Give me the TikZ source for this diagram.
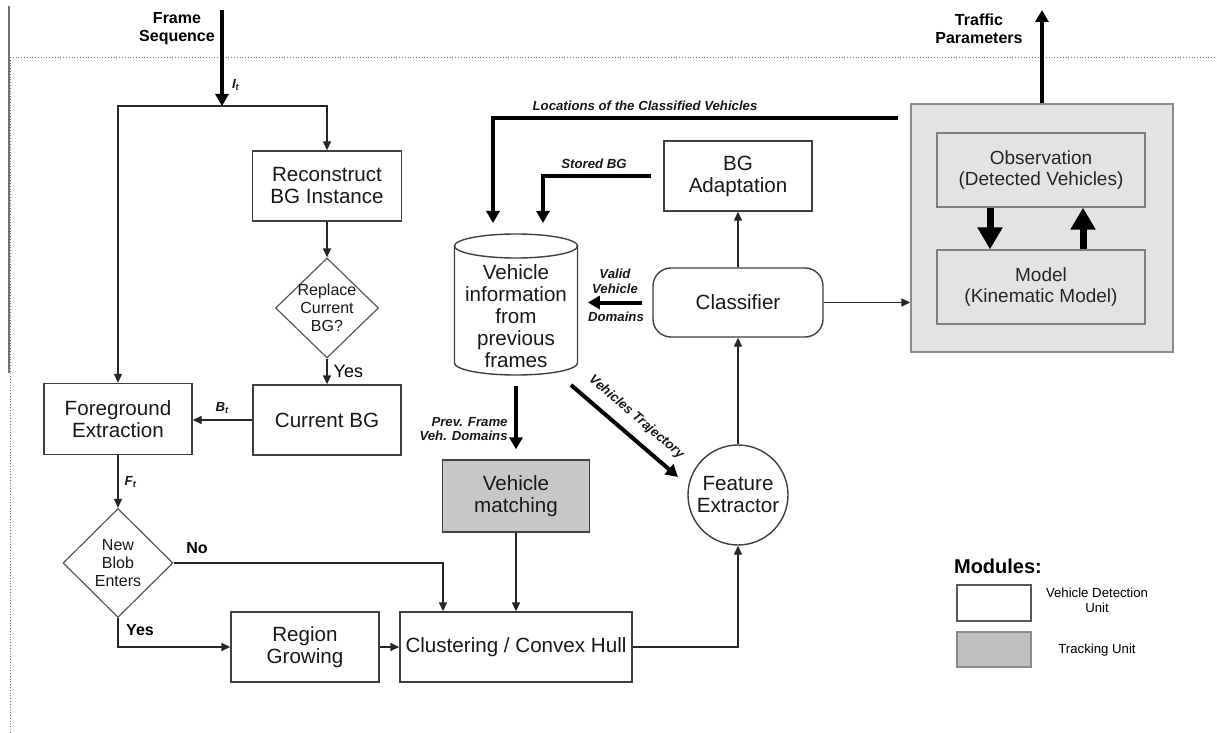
\documentclass[tikz,border=0pt]{standalone}
\usepackage{fontspec}
\setmainfont{Liberation Sans}
\usetikzlibrary{arrows.meta,shapes.geometric}

\tikzset{
  blk/.style={draw=black!75, line width=0.7pt, fill=white, align=center, text=black!90,
    inner sep=1pt, font=\fontsize{10.3}{11}\selectfont},
  trk/.style={blk, fill=black!22},
  inbox/.style={blk, draw=black!50, fill=black!11, text=black!85, font=\fontsize{9.5}{10.5}\selectfont},
  decision/.style={diamond, draw=black!65, line width=0.6pt, fill=white, align=center,
    inner sep=-2pt, text=black!90, font=\fontsize{8}{9}\selectfont},
  flow/.style={draw=black!85, line width=0.7pt, -{Triangle[length=4.5pt,width=4pt]}},
  bigflow/.style={draw=black, line width=2pt, -{Triangle[length=6pt,width=6.5pt]}},
  blockflow/.style={draw=black, line width=3.5pt, -{Triangle[length=11pt,width=12pt]}},
  lbl/.style={font=\fontsize{6.6}{7.4}\selectfont\bfseries\itshape, align=center, text=black!90, inner sep=0pt},
  tag/.style={font=\fontsize{8}{9}\selectfont\bfseries, align=center, inner sep=0pt},
}

\begin{document}
\begin{tikzpicture}[x=0.5pt, y=-0.5pt]
\useasboundingbox (0,0) rectangle (1217,733);
% page frame
\draw[line width=0.8pt, black!55] (9,6) -- (9,373);
\draw[densely dotted, black!55] (10,57) -- (10,733);
\draw[densely dotted, black!55] (10,57) -- (1217,57);

% detection
\node[tag] (fseq) at (177,29) {Frame\\Sequence};
\coordinate (fsin) at (222,10);
\coordinate (split) at (222,106);
\node[blk, minimum width=74.5pt, minimum height=35pt] (recon) at (327,186) {Reconstruct\\BG Instance};
\node[decision, minimum width=51.5pt, minimum height=50pt] (replace) at (327,308) {Replace\\Current\\BG?};
\node[blk, minimum width=74pt, minimum height=35pt] (curbg) at (327,420) {Current BG};
\node[blk, minimum width=74pt, minimum height=35.5pt] (fg) at (118,419) {Foreground\\Extraction};
\node[decision, minimum width=55pt, minimum height=54.5pt] (newblob) at (118,563) {New\\Blob\\Enters};
\node[blk, minimum width=74pt, minimum height=35pt] (region) at (305,647) {Region\\Growing};
\node[blk, minimum width=116pt, minimum height=35pt] (cluster) at (516,647) {Clustering / Convex Hull};

% tracking
\node[trk, minimum width=73.5pt, minimum height=36pt] (match) at (516,496) {Vehicle\\matching};
\draw[black!75, line width=0.7pt] (454.5,246) -- (454.5,363)
  arc[start angle=180, end angle=360, x radius=30.75pt, y radius=6pt] -- (577.5,246);
\draw[black!75, line width=0.7pt] (516,246) ellipse [x radius=30.75pt, y radius=6pt];
\node[align=center, inner sep=0pt, minimum width=61.5pt, minimum height=70pt, text=black!90,
  font=\fontsize{10.3}{11}\selectfont] (db) at (516,316) {Vehicle\\information\\from\\previous\\frames};
\node[blk, circle, minimum size=50pt, inner sep=0pt] (feat) at (738,495) {Feature\\Extractor};
\node[blk, rounded corners=9pt, minimum width=85pt, minimum height=34.5pt] (classif) at (738,302.5) {Classifier};
\node[blk, minimum width=74pt, minimum height=35pt] (bgadapt) at (738,176) {BG\\Adaptation};

% kinematic tracker
\node[draw=black!45, line width=0.7pt, fill=black!11, minimum width=131pt, minimum height=124pt] (tracker) at (1042,228) {};
\node[inbox, minimum width=104pt, minimum height=37pt] (obs) at (1041,170) {Observation\\(Detected Vehicles)};
\node[inbox, minimum width=104pt, minimum height=37pt] (model) at (1041,287) {Model\\(Kinematic Model)};
\node[tag] (tpar) at (979,29) {Traffic\\Parameters};
\coordinate (tpout) at (1042,10);

% connectors
\draw[bigflow] (fsin) -- (split) node[lbl, pos=0.78, right=4pt] {I\textsubscript{t}};
\draw[flow] (split) -| (recon.north);
\draw[flow] (split) -| (fg.north);
\draw[flow] (recon) -- (replace);
\draw[flow] (replace) -- (curbg) node[midway, right=3pt, inner sep=0pt, font=\fontsize{9}{10}\selectfont] {Yes};
\draw[flow] (curbg.west) -- (curbg.west -| fg.east) node[lbl, midway, above=3pt] {B\textsubscript{t}};
\draw[flow] (fg) -- (newblob) node[lbl, midway, right=3pt] {F\textsubscript{t}};
\draw[flow] (newblob.east) -| ([xshift=-36.5pt]cluster.north);
\node[tag] (nolbl) at (197,548) {No};
\draw[flow] (newblob.south) |- (region.west);
\node[tag] (yeslbl) at (140,630) {Yes};
\draw[flow] (region) -- (cluster);
\draw[flow] (match) -- (cluster);
\draw[flow] (cluster.east) -| (feat.south);
\draw[flow] (feat) -- (classif);
\draw[flow] (classif) -- (bgadapt);
\draw[flow] (classif.east) -- (tracker.west |- classif.east);
\draw[bigflow] (tracker.north) -- (tpout);
\draw[blockflow] ([xshift=-25.5pt]obs.south) -- ([xshift=-25.5pt]model.north);
\draw[blockflow] ([xshift=21pt]model.north) -- ([xshift=21pt]obs.south);

\coordinate (locs) at (898,118);
\coordinate (loce) at (493,223);
\draw[bigflow] (locs) -| (loce);
\node[lbl] (loclbl) at (645,106) {Locations of the Classified Vehicles};
\coordinate (stoe) at (543,223);
\draw[bigflow, shorten <=6pt] (bgadapt.west) -| (stoe);
\node[lbl] (stolbl) at (594,164) {Stored BG};
\draw[bigflow, shorten <=5pt, shorten >=5pt] (classif.west) -- (db.east |- classif.west);
\node[lbl] (vallbl) at (615,281) {Valid\\Vehicle};
\node[lbl] (domlbl) at (616,317) {Domains};
\draw[bigflow, shorten >=5pt] (db.south) -- (match.north);
\node[lbl, anchor=east, align=right] (prevlbl) at (508,429) {Prev. Frame\\Veh. Domains};
\coordinate (trjs) at (571,385);
\coordinate (trje) at (678,477);
\draw[bigflow] (trjs) -- (trje) node[lbl, midway, sloped, above=5pt] {Vehicles Trajectory};

% legend
\node[font=\fontsize{10}{11}\selectfont\bfseries, inner sep=0pt] (modlbl) at (998,566) {Modules:};
\node[draw=black!65, line width=0.7pt, fill=white, minimum width=37pt, minimum height=18pt] (leg1) at (994,603) {};
\node[draw=black!45, line width=0.7pt, fill=black!25, minimum width=37pt, minimum height=17.5pt] (leg2) at (994,649.5) {};
\node[align=center, inner sep=0pt, font=\fontsize{6.6}{7.4}\selectfont] (leg1lbl) at (1097,600) {Vehicle Detection\\Unit};
\node[inner sep=0pt, font=\fontsize{6.6}{7.4}\selectfont] (leg2lbl) at (1097,650) {Tracking Unit};
\end{tikzpicture}
\end{document}
